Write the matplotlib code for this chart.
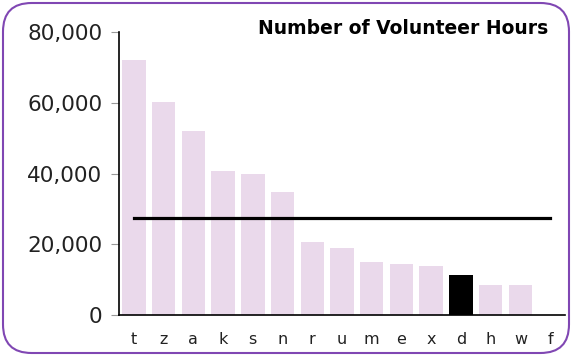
import matplotlib.pyplot as plt
from matplotlib.patches import FancyBboxPatch
from matplotlib.ticker import FuncFormatter

# volunteer hours per group, sorted high to low
groups = ['t', 'z', 'a', 'k', 's', 'n', 'r', 'u', 'm', 'e', 'x', 'd', 'h', 'w', 'f']
hours = [72000, 60300, 52000, 40700, 39900, 34800, 20500, 19000, 14900, 14500, 13900, 11300, 8500, 8500, 0]
highlight = 'd'
average_hours = 27300

bar_color = '#ead9eb'

fig = plt.figure(figsize=(5.72, 3.56), dpi=100)
ax = fig.add_axes([119 / 572, 1 - 315 / 356, 446 / 572, 283 / 356])

colors = ['black' if g == highlight else bar_color for g in groups]
x = range(len(groups))
ax.bar(x, hours, width=0.79, color=colors, zorder=2)
ax.plot([0, len(groups) - 1], [average_hours, average_hours], color='black', lw=2.3, zorder=3)

ax.set_xlim(-0.5, len(groups) - 0.5)
ax.set_ylim(0, 80000)
ax.set_yticks([0, 20000, 40000, 60000, 80000])
ax.yaxis.set_major_formatter(FuncFormatter(lambda v, p: f'{int(v):,}'))
ax.set_xticks(list(x))
ax.set_xticklabels(groups)

ax.spines['top'].set_visible(False)
ax.spines['right'].set_visible(False)
ax.spines['left'].set_linewidth(1.2)
ax.spines['bottom'].set_linewidth(1.2)
ax.tick_params(axis='y', length=6, color='#999999', labelsize=15.5, labelcolor='#222222', pad=6)
ax.tick_params(axis='x', length=0, labelsize=11.5, labelcolor='#222222', pad=12)

fig.text(548 / 572, 1 - 29 / 356, 'Number of Volunteer Hours', ha='right', va='center',
         fontsize=13.5, fontweight='bold')

# rounded purple frame around the whole chart
frame = FancyBboxPatch((3 / 572, 3 / 356), 566 / 572, 350 / 356,
                       boxstyle='round,pad=0,rounding_size=0.05',
                       transform=fig.transFigure, fill=False,
                       edgecolor='#8047b3', lw=1.5, mutation_aspect=572 / 356)
fig.patches.append(frame)

fig.savefig('out.png', dpi=100)
